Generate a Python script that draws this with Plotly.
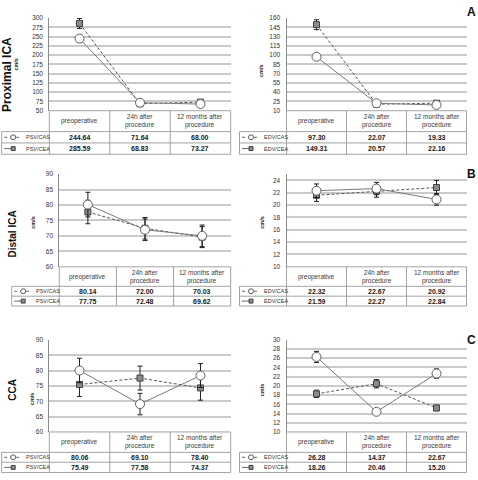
import plotly.graph_objects as go

W, H = 478, 480

# ---------------- data ----------------
categories = ["preoperative", "24h after procedure", "12 months after procedure"]
header_labels = ["preoperative", "24h after<br>procedure", "12 months after<br>procedure"]
row_titles = ["Proximal ICA", "Distal ICA", "CCA"]
panel_letters = ["A", "B", "C"]
unit_label = "cm/s"
psv_names = ["PSV/CAS", "PSV/CEA"]
edv_names = ["EDV/CAS", "EDV/CEA"]

prox_psv_cas = [244.64, 71.64, 68.00]
prox_psv_cea = [285.59, 68.83, 73.27]
prox_edv_cas = [97.30, 22.07, 19.33]
prox_edv_cea = [149.31, 20.57, 22.16]
dist_psv_cas = [80.14, 72.00, 70.03]
dist_psv_cea = [77.75, 72.48, 69.62]
dist_edv_cas = [22.32, 22.67, 20.92]
dist_edv_cea = [21.59, 22.27, 22.84]
cca_psv_cas = [80.06, 69.10, 78.40]
cca_psv_cea = [75.49, 77.58, 74.37]
cca_edv_cas = [26.28, 14.37, 22.67]
cca_edv_cea = [18.26, 20.46, 15.20]

# error bar half-lengths
prox_psv_cas_err = [10.0, 3.0, 3.0]
prox_psv_cea_err = [13.5, 3.0, 3.0]
prox_edv_cas_err = [3.0, 1.5, 1.5]
prox_edv_cea_err = [8.0, 1.5, 1.5]
dist_psv_cas_err = [4.0, 3.5, 3.5]
dist_psv_cea_err = [3.8, 3.5, 3.4]
dist_edv_cas_err = [1.1, 1.0, 0.95]
dist_edv_cea_err = [1.0, 1.0, 1.15]
cca_psv_cas_err = [4.0, 3.5, 3.9]
cca_psv_cea_err = [3.9, 3.9, 4.0]
cca_edv_cas_err = [1.2, 0.5, 1.0]
cca_edv_cea_err = [0.8, 0.9, 0.6]

panels = [
    dict(names=psv_names, cas=prox_psv_cas, cea=prox_psv_cea, cas_e=prox_psv_cas_err, cea_e=prox_psv_cea_err),
    dict(names=edv_names, cas=prox_edv_cas, cea=prox_edv_cea, cas_e=prox_edv_cas_err, cea_e=prox_edv_cea_err),
    dict(names=psv_names, cas=dist_psv_cas, cea=dist_psv_cea, cas_e=dist_psv_cas_err, cea_e=dist_psv_cea_err),
    dict(names=edv_names, cas=dist_edv_cas, cea=dist_edv_cea, cas_e=dist_edv_cas_err, cea_e=dist_edv_cea_err),
    dict(names=psv_names, cas=cca_psv_cas, cea=cca_psv_cea, cas_e=cca_psv_cas_err, cea_e=cca_psv_cea_err),
    dict(names=edv_names, cas=cca_edv_cas, cea=cca_edv_cea, cas_e=cca_edv_cas_err, cea_e=cca_edv_cea_err),
]

# ---------------- layout geometry / styles (pixels) ----------------
geom = [
    dict(l=49.3, r=230.7, t=14.3, b=108.3, rows=(129.5, 141.0, 152.5), leg_l=1.7,
         rng=[50, 300], dtick=25, unit=(16.5, 61)),
    dict(l=286.5, r=466.5, t=14.3, b=108.3, rows=(129.5, 141.0, 152.5), leg_l=239.5,
         rng=[10, 160], dtick=15, unit=(261, 68)),
    dict(l=59.3, r=230.7, t=172.7, b=266.7, rows=(286.5, 296.5, 306.5), leg_l=11.7,
         rng=[60, 90], dtick=5, unit=(33, 222)),
    dict(l=286.5, r=466.5, t=172.7, b=266.7, rows=(286.5, 296.5, 306.5), leg_l=239.5,
         rng=[10, 25], dtick=2, unit=(262, 222)),
    dict(l=49.3, r=230.7, t=341.0, b=434.3, rows=(455.0, 465.0, 475.5), leg_l=1.7,
         rng=[60, 90], dtick=5, unit=(32, 400)),
    dict(l=286.5, r=466.5, t=340.7, b=434.3, rows=(455.0, 465.0, 475.5), leg_l=239.5,
         rng=[10, 30], dtick=2, unit=(262, 392)),
]
title_pos = [(7, 72, 12), (13, 234, 10), (12.5, 392, 10)]
letter_pos = [(471, 8), (471, 173), (471, 341)]

FONT = "Liberation Sans, Arial, sans-serif"
GRID = "#cacaca"
TBL = "#a3a3a3"


def px(x):
    return x / W


def py(y):
    return 1 - y / H


fig = go.Figure()
shapes = []
annotations = []
layout = {}

for i, (p, g) in enumerate(zip(panels, geom)):
    n = i + 1
    xa = "x" if n == 1 else f"x{n}"
    ya = "y" if n == 1 else f"y{n}"
    xkey = "xaxis" if n == 1 else f"xaxis{n}"
    ykey = "yaxis" if n == 1 else f"yaxis{n}"

    layout[xkey] = dict(domain=[px(g["l"]), px(g["r"])], range=[-0.5, 2.5], type="category",
                        categoryorder="array", categoryarray=categories,
                        showticklabels=False, showgrid=False, zeroline=False, showline=False,
                        anchor=ya, fixedrange=True)
    layout[ykey] = dict(domain=[py(g["b"]), py(g["t"])], range=g["rng"], tick0=g["rng"][0],
                        dtick=g["dtick"], showgrid=True, gridcolor=GRID, gridwidth=1.5,
                        showline=True, linecolor="#8a8a8a", linewidth=1, zeroline=False,
                        ticks="", ticklabelstandoff=4,
                        tickfont=dict(family=FONT, size=6.5, color="#333333"),
                        anchor=xa, fixedrange=True)

    # CEA (dashed, square) then CAS (solid, open circle)
    fig.add_trace(go.Scatter(
        x=categories, y=p["cea"], mode="lines+markers", xaxis=xa, yaxis=ya, showlegend=False,
        line=dict(color="#555555", width=1, dash="3px,2px"),
        marker=dict(symbol="square", size=6, color="#8c8c8c", line=dict(color="#404040", width=1)),
        error_y=dict(type="data", array=p["cea_e"], visible=True, color="#1e1e1e", thickness=1, width=2.5),
        cliponaxis=False))
    fig.add_trace(go.Scatter(
        x=categories, y=p["cas"], mode="lines+markers", xaxis=xa, yaxis=ya, showlegend=False,
        line=dict(color="#7a7a7a", width=1),
        marker=dict(symbol="circle", size=9, color="white", line=dict(color="#606060", width=1)),
        error_y=dict(type="data", array=p["cas_e"], visible=True, color="#1e1e1e", thickness=1, width=2.5),
        cliponaxis=False))

    # ---- table grid ----
    hb, r1, r2 = g["rows"]
    line = dict(color=TBL, width=1)
    shapes.append(dict(type="line", xref="paper", yref="paper", x0=px(g["l"]), x1=px(g["r"]),
                       y0=py(g["b"]), y1=py(g["b"]), line=line))
    for yy in (hb, r1, r2):
        shapes.append(dict(type="line", xref="paper", yref="paper", x0=px(g["leg_l"]), x1=px(g["r"]),
                           y0=py(yy), y1=py(yy), line=line))
    shapes.append(dict(type="line", xref="paper", yref="paper", x0=px(g["leg_l"]), x1=px(g["leg_l"]),
                       y0=py(hb), y1=py(r2), line=line))
    for k in range(4):
        shapes.append(dict(type="line", xref=f"{xa} domain", yref="paper", x0=k / 3, x1=k / 3,
                           y0=py(g["b"]), y1=py(r2), line=line))

    # header labels
    for j, lab in enumerate(header_labels):
        annotations.append(dict(xref=xa, yref="paper", x=categories[j], y=py((g["b"] + hb) / 2),
                                text=lab, showarrow=False, xanchor="center", yanchor="middle",
                                font=dict(family=FONT, size=6.5, color="#3a3a3a")))
    # values
    for row, (vals, yc) in enumerate(((p["cas"], (hb + r1) / 2), (p["cea"], (r1 + r2) / 2))):
        for j, v in enumerate(vals):
            annotations.append(dict(xref=xa, yref="paper", x=categories[j], y=py(yc),
                                    text=f"<b>{v:.2f}</b>", showarrow=False, xanchor="center",
                                    yanchor="middle",
                                    font=dict(family=FONT, size=7, color="#1a1a1a")))
        # legend cell: sample line + marker + label
        lx = g["leg_l"]
        shapes.append(dict(type="line", xref="paper", yref="paper", x0=px(lx + 2.5), x1=px(lx + 20),
                           y0=py(yc), y1=py(yc),
                           line=dict(color="#666666", width=1, dash="dot" if row == 0 else "dash")))
        if row == 0:
            shapes.append(dict(type="circle", xref="paper", yref="paper", x0=px(lx + 9), x1=px(lx + 14),
                               y0=py(yc - 2.5), y1=py(yc + 2.5), fillcolor="white",
                               line=dict(color="#555555", width=1)))
        else:
            shapes.append(dict(type="rect", xref="paper", yref="paper", x0=px(lx + 9.5), x1=px(lx + 13.5),
                               y0=py(yc - 2), y1=py(yc + 2), fillcolor="#8c8c8c",
                               line=dict(color="#404040", width=1)))
        annotations.append(dict(xref="paper", yref="paper", x=px(lx + 22.5), y=py(yc),
                                text=p["names"][row], showarrow=False, xanchor="left", yanchor="middle",
                                font=dict(family=FONT, size=5.5, color="#333333")))

    # unit label
    ux, uy = g["unit"]
    annotations.append(dict(xref="paper", yref="paper", x=px(ux), y=py(uy), text=f"<b>{unit_label}</b>",
                            textangle=-90, showarrow=False, xanchor="center", yanchor="middle",
                            font=dict(family=FONT, size=5.5, color="#222222")))

for t, (tx, ty, ts) in zip(row_titles, title_pos):
    annotations.append(dict(xref="paper", yref="paper", x=px(tx), y=py(ty), text=f"<b>{t}</b>",
                            textangle=-90, showarrow=False, xanchor="center", yanchor="middle",
                            font=dict(family=FONT, size=ts, color="#111111")))
for letter, (lx_, ly_) in zip(panel_letters, letter_pos):
    annotations.append(dict(xref="paper", yref="paper", x=px(lx_), y=py(ly_), text=f"<b>{letter}</b>",
                            showarrow=False, xanchor="center", yanchor="middle",
                            font=dict(family=FONT, size=12, color="#111111")))

fig.update_layout(
    width=W, height=H, margin=dict(l=0, r=0, t=0, b=0),
    paper_bgcolor="white", plot_bgcolor="white",
    showlegend=False, shapes=shapes, annotations=annotations,
    font=dict(family=FONT),
    **layout,
)

fig.write_html("out.html", config={"displayModeBar": False},
               post_script="document.body.style.margin='0';document.body.style.padding='0';")
